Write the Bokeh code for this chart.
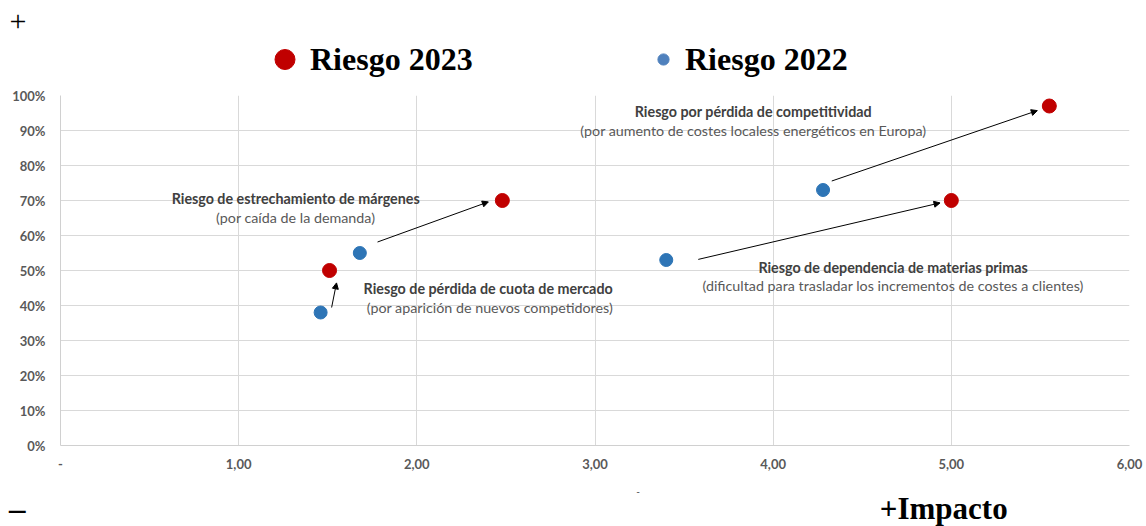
from bokeh.plotting import figure
from bokeh.layouts import column
from bokeh.models import (Label, Arrow, NormalHead, Legend, LegendItem,
                          FixedTicker, Range1d)
from bokeh.embed import file_html
from bokeh.resources import INLINE

# ---------------- data ----------------
impact_2023 = [1.51, 2.48, 5.00, 5.55]
prob_2023 = [0.50, 0.70, 0.70, 0.97]
impact_2022 = [1.46, 1.68, 3.40, 4.28]
prob_2022 = [0.38, 0.55, 0.53, 0.73]

series_names = ["Riesgo 2023", "Riesgo 2022"]

x_ticks = [0, 1, 2, 3, 4, 5, 6]
x_tick_labels = ["-", "1,00", "2,00", "3,00", "4,00", "5,00", "6,00"]
y_ticks = [0.0, 0.1, 0.2, 0.3, 0.4, 0.5, 0.6, 0.7, 0.8, 0.9, 1.0]
y_tick_labels = ["0%", "10%", "20%", "30%", "40%", "50%", "60%", "70%", "80%", "90%", "100%"]

risk_titles = [
    "Riesgo de  pérdida de cuota de mercado",
    "Riesgo de estrechamiento de márgenes",
    "Riesgo de dependencia de materias primas",
    "Riesgo por pérdida de competitividad",
]
risk_subtitles = [
    "(por aparición de nuevos competidores)",
    "(por caída de la demanda)",
    "(dificultad para trasladar los incrementos de costes a clientes)",
    "(por aumento de costes localess energéticos en Europa)",
]

# ---------------- layout / positions (not data) ----------------
W = 1146
TOP_H, MAIN_H, BOT_H = 80, 405, 41
PX_X = 178.2   # pixels per x unit
PX_Y = 350.0   # pixels per y unit (0..1)

title_pos_x = [2.410, 1.320, 4.673, 3.889]
title_pos_y = [0.448, 0.705, 0.509, 0.953]
sub_dy = -0.053

# arrow offsets in pixels: (start from 2022 point), (end at 2023 point)
arrow_start_off = [(11, -5), (17.7, -11), (32, -0.6), (8.7, -9)]
arrow_end_off = [(7, 12.4), (-14, 1.4), (-11.3, 2.4), (-12, 4.6)]

RED = "#C00000"
BLUE = "#2E75B6"
AX_FONT = "Lato"
SERIF = "Liberation Serif"
NAN = float("nan")


def strip(height):
    f = figure(width=W, height=height, output_backend="svg", toolbar_location=None,
               x_range=Range1d(0, W), y_range=Range1d(height, 0),
               x_axis_location=None, y_axis_location=None,
               min_border=0, min_border_left=0, min_border_right=0,
               min_border_top=0, min_border_bottom=0, frame_align=False)
    f.grid.visible = False
    f.outline_line_color = None
    f.background_fill_color = "white"
    f.border_fill_color = "white"
    return f


# ---------------- main plot ----------------
p = figure(width=W, height=MAIN_H, output_backend="svg", toolbar_location=None,
           x_range=Range1d(0, 6), y_range=Range1d(0, 1),
           min_border_left=60, min_border_right=17, min_border_top=15,
           min_border_bottom=40, frame_align=False)
p.outline_line_color = None
p.background_fill_color = "white"
p.border_fill_color = "white"

p.xaxis.ticker = FixedTicker(ticks=x_ticks)
p.xaxis.major_label_overrides = {t: l for t, l in zip(x_ticks, x_tick_labels)}
p.yaxis.ticker = FixedTicker(ticks=y_ticks)
p.yaxis.major_label_overrides = {t: l for t, l in zip(y_ticks, y_tick_labels)}
for ax in (p.xaxis, p.yaxis):
    ax.major_tick_line_color = None
    ax.minor_tick_line_color = None
    ax.major_tick_out = 0
    ax.major_tick_in = 0
    ax.minor_tick_out = 0
    ax.axis_line_color = "#d0d0d0"
    ax.major_label_text_font = AX_FONT
    ax.major_label_text_font_style = "bold"
    ax.major_label_text_font_size = "13px"
    ax.major_label_text_color = "#595959"
p.yaxis.major_label_standoff = 15
p.xaxis.major_label_standoff = 13

p.xgrid.ticker = FixedTicker(ticks=x_ticks)
p.ygrid.ticker = FixedTicker(ticks=y_ticks)
p.grid.grid_line_color = "#d9d9d9"
p.grid.grid_line_width = 1

r23 = p.scatter(impact_2023, prob_2023, size=14, color=RED, line_color=RED)
r22 = p.scatter(impact_2022, prob_2022, size=13, color=BLUE, line_color=BLUE)

for i in range(len(impact_2022)):
    sx0, sy0 = arrow_start_off[i]
    ex0, ey0 = arrow_end_off[i]
    p.add_layout(Arrow(
        x_start=impact_2022[i] + sx0 / PX_X, y_start=prob_2022[i] - sy0 / PX_Y,
        x_end=impact_2023[i] + ex0 / PX_X, y_end=prob_2023[i] - ey0 / PX_Y,
        line_color="black", line_width=1,
        end=NormalHead(size=6, fill_color="black", line_color="black", line_width=1)))

for i in range(len(risk_titles)):
    p.add_layout(Label(x=title_pos_x[i], y=title_pos_y[i], text=risk_titles[i],
                       text_align="center", text_baseline="middle",
                       text_font=AX_FONT, text_font_style="bold",
                       text_font_size="14.3px", text_color="#404040"))
    p.add_layout(Label(x=title_pos_x[i], y=title_pos_y[i] + sub_dy, text=risk_subtitles[i],
                       text_align="center", text_baseline="middle",
                       text_font=AX_FONT, text_font_size="14.3px", text_color="#595959"))

# ---------------- top strip: "+" and legend ----------------
top = strip(TOP_H)
# proxy renderers (one NaN point, never drawn) that carry the legend glyph styles
g23 = top.scatter(x=[NAN], y=[NAN], color=RED, line_color=RED)
g22 = top.scatter(x=[NAN], y=[NAN], fill_color="#4F81BD", line_color="#4F81BD")
legend_common = dict(padding=0, margin=0, spacing=0, border_line_color=None,
                     background_fill_alpha=0, label_text_font=SERIF,
                     label_text_font_style="bold", label_text_font_size="32px",
                     label_text_color="black", glyph_height=50)
leg23 = Legend(items=[LegendItem(label=series_names[0], renderers=[g23])],
               location=(259, -4), glyph_width=51, label_standoff=0, **legend_common)
leg22 = Legend(items=[LegendItem(label=series_names[1], renderers=[g22])],
               location=(649, -4), glyph_width=28, label_standoff=8, **legend_common)
top.add_layout(leg23)
top.add_layout(leg22)
top.add_layout(Label(x=17.5, y=20.5, text="+", text_align="center", text_baseline="middle",
                     text_font=SERIF, text_font_size="30px", text_color="black"))

# ---------------- bottom strip ----------------
bot = strip(BOT_H)
bot.add_layout(Label(x=637.7, y=5.7, text="-", text_align="center", text_baseline="middle",
                     text_font=AX_FONT, text_font_size="10px", text_color="#404040"))
bot.add_layout(Label(x=16.7, y=23.0, text="–", text_align="center", text_baseline="middle",
                     text_font=SERIF, text_font_style="bold", text_font_size="33px",
                     text_color="black"))
bot.add_layout(Label(x=879.3, y=22.5, text="+Impacto", text_align="left",
                     text_baseline="middle", text_font=SERIF, text_font_style="bold",
                     text_font_size="31px", text_color="black"))

layout = column(top, p, bot, spacing=0)
open("out.html", "w").write(file_html(layout, INLINE))
